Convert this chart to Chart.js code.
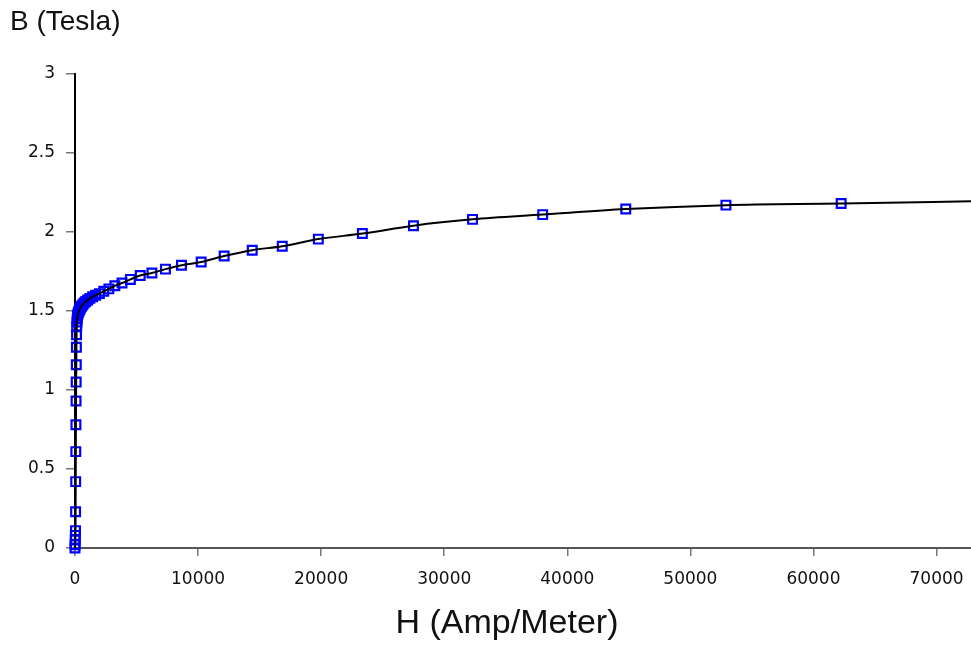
<!DOCTYPE html>
<html>
<head>
<meta charset="utf-8">
<script src="https://cdn.jsdelivr.net/npm/chart.js@4.4.0/dist/chart.umd.min.js"></script>
<style>
  html, body { margin: 0; padding: 0; background: #ffffff; }
  #wrap { width: 971px; height: 646px; position: relative; }
</style>
</head>
<body>
<div id="wrap"><canvas id="c" width="971" height="646"></canvas></div>
<script>
// ---- data ----
const hValues = [0, 10, 20, 30, 40, 48, 56, 65, 75, 85, 95, 105, 115, 125, 140, 160, 180, 205, 236, 278, 327, 385, 455, 535, 630, 740, 875, 1030, 1210, 1430, 1680, 1980, 2340, 2750, 3240, 3820, 4500, 5300, 6250, 7350, 8650, 10250, 12120, 14400, 16840, 19770, 23350, 27500, 32300, 38000, 44750, 52890, 62250, 73300];
const bValues = [0, 0.02, 0.05, 0.08, 0.11, 0.23, 0.42, 0.61, 0.78, 0.93, 1.05, 1.16, 1.27, 1.35, 1.40, 1.43, 1.45, 1.47, 1.48, 1.49, 1.50, 1.51, 1.52, 1.53, 1.54, 1.55, 1.56, 1.57, 1.58, 1.59, 1.60, 1.61, 1.625, 1.64, 1.66, 1.677, 1.70, 1.725, 1.74, 1.765, 1.79, 1.81, 1.848, 1.885, 1.91, 1.955, 1.99, 2.04, 2.08, 2.11, 2.145, 2.17, 2.18, 2.195];
const yTickLabels = ['0', '0.5', '1', '1.5', '2', '2.5', '3'];
const xTickLabels = ['0', '10000', '20000', '30000', '40000', '50000', '60000', '70000'];
const yTitle = 'B (Tesla)';
const xTitle = 'H (Amp/Meter)';

const points = hValues.map((h, i) => ({ x: h, y: bValues[i] }));

function labelFor(list, v) {
  const n = Number(String(v).replace(/,/g, ''));
  const s = String(Math.round(n * 1000) / 1000);
  return list.includes(s) ? s : '';
}

const titles = {
  id: 'titles',
  afterDraw(chart) {
    const ctx = chart.ctx;
    ctx.save();
    ctx.fillStyle = '#111111';
    ctx.textBaseline = 'middle';
    ctx.font = '28px "Liberation Sans", Arial, sans-serif';
    ctx.textAlign = 'left';
    ctx.fillText(yTitle, 10, 22);
    ctx.font = '34px "Liberation Sans", Arial, sans-serif';
    ctx.textAlign = 'center';
    ctx.fillText(xTitle, 507, 624);
    ctx.restore();
  }
};

new Chart(document.getElementById('c'), {
  type: 'scatter',
  data: {
    datasets: [
      {
        label: 'curve',
        data: points,
        showLine: true,
        borderColor: '#000000',
        borderWidth: 2,
        pointRadius: 0,
        cubicInterpolationMode: 'monotone',
        fill: false,
        order: 0
      },
      {
        label: 'points',
        data: points,
        showLine: false,
        clip: false,
        pointStyle: 'rect',
        pointRadius: 6.2,
        pointBorderWidth: 2.2,
        pointBorderColor: '#0000ff',
        pointBackgroundColor: 'rgba(0,0,0,0)',
        order: 1
      }
    ]
  },
  options: {
    responsive: false,
    animation: false,
    devicePixelRatio: 1,
    layout: { autoPadding: false, padding: { top: 74, left: 0, right: 0, bottom: 0 } },
    plugins: {
      legend: { display: false },
      tooltip: { enabled: false },
      title: { display: false }
    },
    scales: {
      x: {
        type: 'linear',
        bounds: 'data',
        min: 0,
        max: 72800,
        afterBuildTicks(scale) { scale.ticks = xTickLabels.map(s => ({ value: Number(s) })); },
        afterFit(scale) { scale.height = 98; scale.paddingRight = 0; },
        border: { display: true, color: '#555555', width: 2 },
        grid: { display: true, drawOnChartArea: false, drawTicks: true, tickLength: 8, color: '#777777', lineWidth: 1.5 },
        ticks: {
          autoSkip: false,
          maxRotation: 0,
          padding: 13,
          color: '#111111',
          font: { family: '"DejaVu Sans", Verdana, sans-serif', size: 17 },
          callback: (v) => labelFor(xTickLabels, v)
        }
      },
      y: {
        type: 'linear',
        min: 0,
        max: 3,
        afterBuildTicks(scale) { scale.ticks = yTickLabels.map(s => ({ value: Number(s) })); },
        afterFit(scale) { scale.width = 75; },
        border: { display: true, color: '#000000', width: 2 },
        grid: { display: true, drawOnChartArea: false, drawTicks: true, tickLength: 9, color: '#777777', lineWidth: 1.5 },
        ticks: {
          padding: 11,
          color: '#111111',
          font: { family: '"DejaVu Sans", Verdana, sans-serif', size: 17 },
          callback: (v) => labelFor(yTickLabels, v)
        }
      }
    }
  },
  plugins: [titles]
});
</script>
</body>
</html>
